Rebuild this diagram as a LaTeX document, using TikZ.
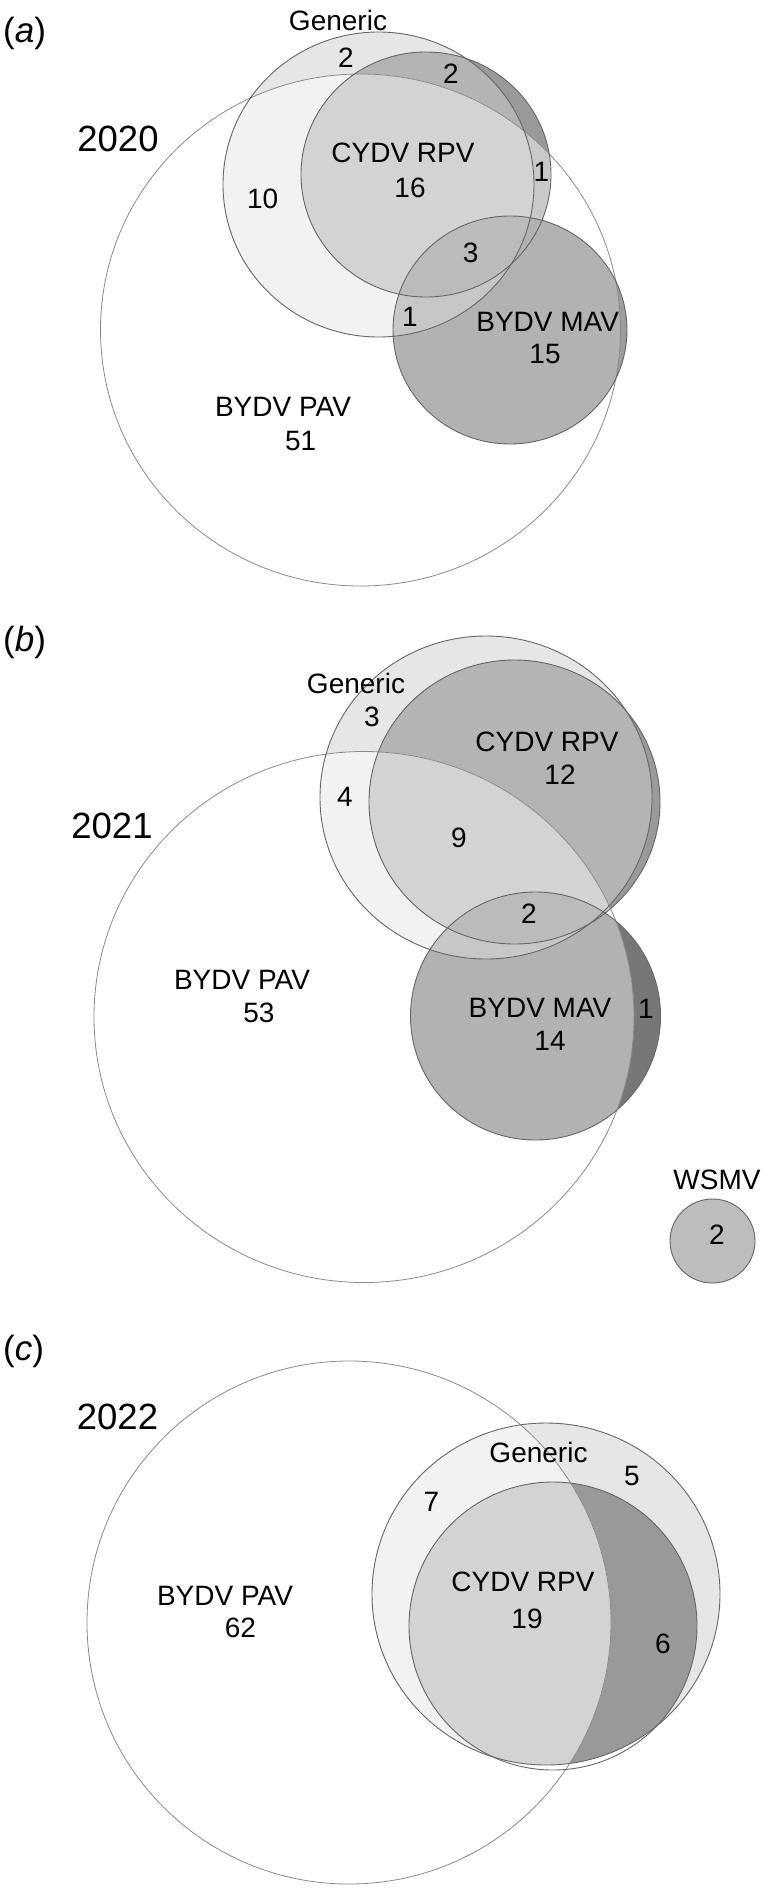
\documentclass[tikz,border=0pt]{standalone}
\usepackage{fontspec}
\setmainfont{Liberation Sans}
\definecolor{oG}{HTML}{E6E6E6}
\definecolor{oR}{HTML}{9A9A9A}
\definecolor{oGR}{HTML}{B4B4B4}
\definecolor{oGRc}{HTML}{999999}
\definecolor{oMa}{HTML}{9C9C9C}
\definecolor{oMb}{HTML}{777777}
\definecolor{oGM}{HTML}{A0A0A0}
\definecolor{oGRM}{HTML}{A6A6A6}
\definecolor{iG}{HTML}{F2F2F2}
\definecolor{iR}{HTML}{C9C9C9}
\definecolor{iGR}{HTML}{D3D3D3}
\definecolor{iM}{HTML}{B2B2B2}
\definecolor{iGM}{HTML}{C8C7C8}
\definecolor{iGRM}{HTML}{BCBBBC}
\definecolor{wsC}{HTML}{BDBDBD}
\definecolor{lineC}{HTML}{666666}
\definecolor{pavC}{HTML}{8A8A8A}
% panel a
\def\Pa{(360.5,330) ellipse [x radius=260, y radius=256]}
\def\Ga{(378.5,184.5) ellipse [x radius=155.5, y radius=152.5]}
\def\Ra{(426,174.5) ellipse [x radius=125, y radius=122.5]}
\def\Ma{(510,330) ellipse [x radius=117, y radius=114]}
% panel b
\def\Pb{(364,1017) ellipse [x radius=270, y radius=265.5]}
\def\Gb{(486,797.5) ellipse [x radius=166, y radius=161.5]}
\def\Rb{(514.5,802) ellipse [x radius=145.5, y radius=142]}
\def\Mb{(535.5,1016) ellipse [x radius=125, y radius=124]}
\def\Wb{(712.5,1241) ellipse [x radius=42.5, y radius=42]}
% panel c
\def\Pc{(349,1622.5) ellipse [x radius=262, y radius=261.5]}
\def\Gc{(546,1594) ellipse [x radius=174, y radius=171]}
\def\Rc{(553,1626) ellipse [x radius=144, y radius=144]}
\begin{document}
\begin{tikzpicture}[x=1pt,y=-1pt,
  lbl/.style={inner sep=0pt, font=\fontsize{28}{34}\selectfont},
  yr/.style={inner sep=0pt, font=\fontsize{36.5}{42}\selectfont},
  pl/.style={inner sep=0pt, anchor=base west, font=\fontsize{35}{42}\selectfont},
  vline/.style={draw=lineC, line width=0.9pt},
  pavline/.style={draw=pavC, line width=0.8pt}]
\useasboundingbox (0,0) rectangle (766,1893);
\fill[white] (0,0) rectangle (766,1893);

% ================= panel a =================
\fill[oG] \Ga;
\fill[oR] \Ra;
\begin{scope}\clip \Ga; \fill[oGR] \Ra; \end{scope}
\fill[oMa] \Ma;
\begin{scope}\clip \Ga; \fill[oGM] \Ma; \clip \Ra; \fill[oGRM] \Ma; \end{scope}
\begin{scope}
  \clip \Pa;
  \fill[white] \Pa;
  \fill[iG] \Ga;
  \fill[iR] \Ra;
  \begin{scope}\clip \Ga; \fill[iGR] \Ra; \end{scope}
  \fill[iM] \Ma;
  \begin{scope}\clip \Ga; \fill[iGM] \Ma; \clip \Ra; \fill[iGRM] \Ma; \end{scope}
\end{scope}
\draw[pavline] \Pa;
\draw[vline] \Ga;
\draw[vline] \Ra;
\draw[vline] \Ma;

\node[pl] (pa) at (3,42) {(\textit{a})};
\node[yr] (ya) at (118,139) {2020};
\node[lbl] (agen) at (338,20.5) {Generic};
\node[lbl] (a1) at (346,58) {2};
\node[lbl] (a2) at (451,74) {2};
\node[lbl] (arpv) at (403,153) {CYDV RPV};
\node[lbl] (a3) at (410,188) {16};
\node[lbl] (a4) at (541.5,171.5) {1};
\node[lbl] (a5) at (262.6,199) {10};
\node[lbl] (a6) at (470.6,253) {3};
\node[lbl] (a7) at (410,316.7) {1};
\node[lbl] (amav) at (547.7,322) {BYDV MAV};
\node[lbl] (a8) at (545,353.6) {15};
\node[lbl] (apav) at (283,407) {BYDV PAV};
\node[lbl] (a9) at (300.7,441) {51};

% ================= panel b =================
\fill[oG] \Gb;
\fill[oR] \Rb;
\begin{scope}\clip \Gb; \fill[oGR] \Rb; \end{scope}
\fill[oMb] \Mb;
\begin{scope}\clip \Gb; \fill[oGM] \Mb; \clip \Rb; \fill[oGRM] \Mb; \end{scope}
\begin{scope}
  \clip \Pb;
  \fill[white] \Pb;
  \fill[iG] \Gb;
  \fill[iR] \Rb;
  \begin{scope}\clip \Gb; \fill[iGR] \Rb; \end{scope}
  \fill[iM] \Mb;
  \begin{scope}\clip \Gb; \fill[iGM] \Mb; \clip \Rb; \fill[iGRM] \Mb; \end{scope}
\end{scope}
\draw[pavline] \Pb;
\draw[vline] \Gb;
\draw[vline] \Rb;
\draw[vline] \Mb;
\fill[wsC] \Wb;
\draw[vline] \Wb;

\node[pl] (pb) at (3,651) {(\textit{b})};
\node[yr] (yb) at (112,826) {2021};
\node[lbl] (bgen) at (356,683) {Generic};
\node[lbl] (b1) at (372,717) {3};
\node[lbl] (brpv) at (547,742) {CYDV RPV};
\node[lbl] (b2) at (560,775) {12};
\node[lbl] (b3) at (345,797) {4};
\node[lbl] (b4) at (459,838) {9};
\node[lbl] (b5) at (529,914) {2};
\node[lbl] (bpav) at (242,980) {BYDV PAV};
\node[lbl] (b6) at (259,1013) {53};
\node[lbl] (bmav) at (540,1008) {BYDV MAV};
\node[lbl] (b7) at (550,1041) {14};
\node[lbl] (b8) at (646,1009) {1};
\node[lbl] (bws) at (717,1180) {WSMV};
\node[lbl] (b9) at (717,1235) {2};

% ================= panel c =================
\fill[oG] \Gc;
\begin{scope}\clip \Gc; \fill[oGRc] \Rc; \end{scope}
\begin{scope}
  \clip \Pc;
  \fill[white] \Pc;
  \fill[iG] \Gc;
  \begin{scope}\clip \Gc; \fill[iGR] \Rc; \end{scope}
\end{scope}
\draw[pavline] \Pc;
\draw[vline] \Gc;
\draw[vline] \Rc;

\node[pl] (pc) at (3,1360.5) {(\textit{c})};
\node[yr] (yc) at (117.5,1417) {2022};
\node[lbl] (cgen) at (538.5,1452) {Generic};
\node[lbl] (c1) at (632,1475.6) {5};
\node[lbl] (c2) at (431.5,1502) {7};
\node[lbl] (crpv) at (523,1582) {CYDV RPV};
\node[lbl] (c3) at (527,1618.5) {19};
\node[lbl] (cpav) at (225,1596) {BYDV PAV};
\node[lbl] (c4) at (240.5,1628) {62};
\node[lbl] (c5) at (663,1644) {6};
\end{tikzpicture}
\end{document}
